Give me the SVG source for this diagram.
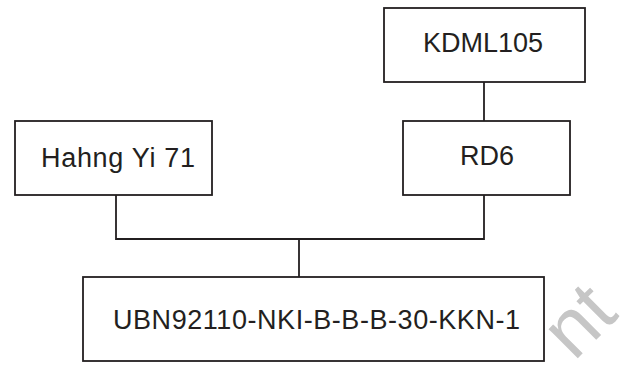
<svg xmlns="http://www.w3.org/2000/svg" width="642" height="365" viewBox="0 0 642 365">
<style>
.box{fill:#fff;stroke:#231f20;stroke-width:1.8}
.lbl{font-family:"Liberation Sans",Arial,sans-serif;font-size:27px;fill:#231f20;text-anchor:middle}
.con{fill:none;stroke:#231f20;stroke-width:1.8}
.wm{font-family:"Liberation Sans",Arial,sans-serif;font-size:78px;fill:#c6c6c6}
</style>
<rect width="642" height="365" fill="#fff"/>
<g id="connectors">
<line class="con" x1="484" y1="82" x2="484" y2="121"/>
<polyline class="con" points="116,195 116,239 484,239 484,195"/>
<line class="con" x1="299" y1="239" x2="299" y2="277"/>
</g>
<g id="kdml105"><rect class="box" x="384" y="8" width="201" height="74"/><text class="lbl" x="483" y="52">KDML105</text></g>
<g id="hahngyi71"><rect class="box" x="15" y="121" width="197" height="74"/><text class="lbl" x="118" y="166.5" textLength="154" lengthAdjust="spacing">Hahng Yi 71</text></g>
<g id="rd6"><rect class="box" x="403" y="121" width="167" height="74"/><text class="lbl" x="487" y="165">RD6</text></g>
<g id="ubn"><rect class="box" x="83" y="277" width="461" height="84"/><text class="lbl" x="316.5" y="329" textLength="407" lengthAdjust="spacing">UBN92110-NKI-B-B-B-30-KKN-1</text></g>
<text class="wm" x="574" y="362" transform="rotate(-45 574 362)">nt</text>
</svg>
